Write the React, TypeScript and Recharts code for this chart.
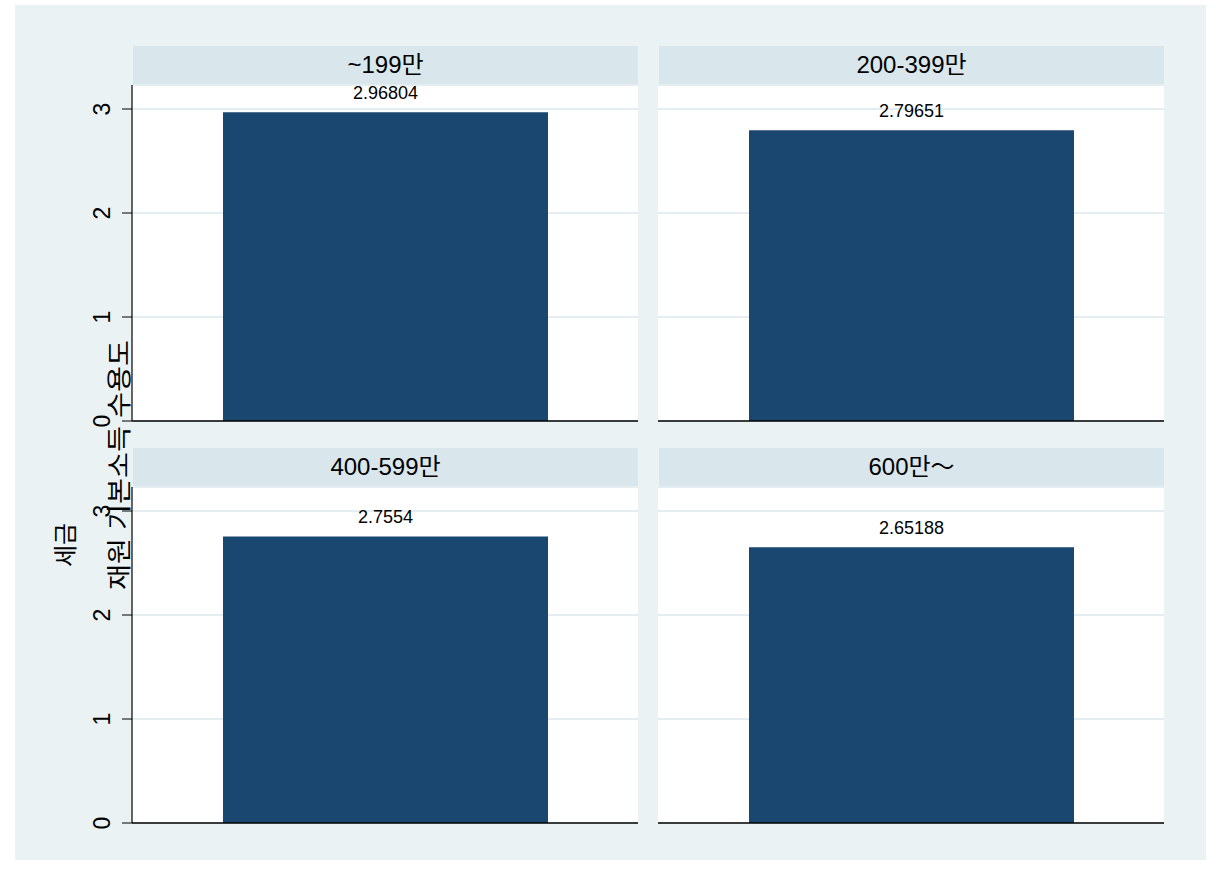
import React from 'react';
import { BarChart, Bar, XAxis, YAxis, CartesianGrid, LabelList, ReferenceLine } from 'recharts';

const groups = ['~199만', '200-399만', '400-599만', '600만～'];
const values = [2.96804, 2.79651, 2.7554, 2.65188];
const valueLabels = ['2.96804', '2.79651', '2.7554', '2.65188'];
const yTicks = [0, 1, 2, 3];
const yMax = 3.2308;
const titleLine1 = '세금';
const titleLine2 = '재원 기본소득 수용도';

const FONT = '"Liberation Sans", Arial, "Noto Sans CJK KR", sans-serif';
const BAR = '#1A476F';
const STRIP = '#D9E6EB';
const OUTER = '#EAF2F3';
const GRID = '#E4EEF1';

const layout = [
  { left: 132, top: 46, axis: true },
  { left: 658, top: 46, axis: false },
  { left: 132, top: 448, axis: true },
  { left: 658, top: 448, axis: false },
];

const YTick = (props: any) => {
  const { x, y, payload } = props;
  const cx = x - 20;
  return (
    <text
      x={cx}
      y={y}
      transform={`rotate(-90 ${cx} ${y})`}
      textAnchor="middle"
      dominantBaseline="central"
      fontSize={23}
      fontFamily={FONT}
      fill="#000"
    >
      {payload.value}
    </text>
  );
};

const ValueLabel = (p: any) => {
  const { x, y, width, value } = p;
  return (
    <text
      x={x + width / 2}
      y={y - 13}
      textAnchor="middle"
      fontSize={18}
      fontFamily={FONT}
      fill="#000"
    >
      {value}
    </text>
  );
};

function Panel({ i }: { i: number }) {
  const { left, top, axis } = layout[i];
  const data = [{ name: groups[i], value: values[i], label: valueLabels[i] }];
  const axisW = axis ? 132 : 0;
  const plotW = 506;
  return (
    <div style={{ position: 'absolute', left: left - axisW, top }}>
      <div
        style={{
          position: 'absolute',
          left: axisW + 1,
          top: 0,
          width: plotW - 1,
          height: 38,
          background: STRIP,
          textAlign: 'center',
          lineHeight: '38px',
          fontSize: 24,
          fontFamily: FONT,
          color: '#000',
        }}
      >
        {groups[i]}
      </div>
      <div style={{ position: 'absolute', left: 0, top: 0 }}>
        <BarChart
          width={axisW + plotW}
          height={385}
          data={data}
          margin={{ top: 39, right: 0, bottom: 10, left: 0 }}
        >
          <CartesianGrid vertical={false} stroke={GRID} strokeWidth={2} fill="#fff" />
          <XAxis dataKey="name" hide />
          <YAxis
            hide={!axis}
            width={axisW}
            domain={[0, yMax]}
            ticks={yTicks}
            allowDataOverflow
            tickSize={10}
            tickMargin={0}
            tick={<YTick />}
            tickLine={{ stroke: '#000' }}
            axisLine={{ stroke: '#000', strokeWidth: 1.2 }}
          />
          <Bar dataKey="value" fill={BAR} barSize={325} isAnimationActive={false}>
            <LabelList dataKey="label" content={<ValueLabel />} />
          </Bar>
          <ReferenceLine y={0} stroke="#000" strokeWidth={1.5} />
        </BarChart>
      </div>
    </div>
  );
}

export default function App() {
  return (
    <div style={{ position: 'absolute', left: 0, top: 0, width: 1216, height: 869, background: '#fff' }}>
      <div style={{ position: 'absolute', left: 15, top: 5, width: 1191, height: 855, background: OUTER }} />
      {[0, 1, 2, 3].map((i) => (
        <Panel key={i} i={i} />
      ))}
      <svg
        width={1216}
        height={869}
        style={{ position: 'absolute', left: 0, top: 0, pointerEvents: 'none' }}
      >
        <text
          x={65}
          y={545}
          transform="rotate(-90 65 545)"
          textAnchor="middle"
          dominantBaseline="central"
          fontSize={24}
          fontFamily={FONT}
          fill="#000"
        >
          {titleLine1}
        </text>
        <text
          x={119}
          y={465}
          transform="rotate(-90 119 465)"
          textAnchor="middle"
          dominantBaseline="central"
          fontSize={25}
          fontFamily={FONT}
          textLength={250}
          lengthAdjust="spacingAndGlyphs"
          fill="#000"
        >
          {titleLine2}
        </text>
      </svg>
    </div>
  );
}
